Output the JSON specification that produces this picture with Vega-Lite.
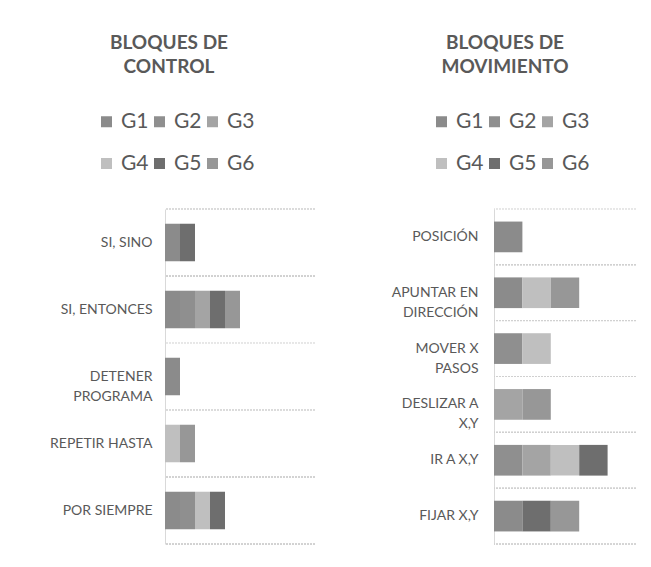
{
  "$schema": "https://vega.github.io/schema/vega-lite/v6.json",
  "padding": {"left": 5, "top": 34, "right": 5, "bottom": 5},
  "background": "white",
  "spacing": 38,
  "config": {
    "font": "Lato",
    "view": {"stroke": null},
    "axis": {"labelFont": "Lato", "labelColor": "#595959", "labelFontSize": 14},
    "legend": {"labelFont": "Lato", "labelColor": "#595959", "labelFontSize": 21},
    "title": {"font": "Lato", "color": "#595959", "fontSize": 19, "fontWeight": "bold", "lineHeight": 24, "anchor": "middle", "frame": "group"}
  },
  "datasets": {
    "control": [
      {"bloque": "SI, SINO", "grupo": "G1", "valor": 1},
      {"bloque": "SI, SINO", "grupo": "G5", "valor": 1},
      {"bloque": "SI, ENTONCES", "grupo": "G1", "valor": 1},
      {"bloque": "SI, ENTONCES", "grupo": "G2", "valor": 1},
      {"bloque": "SI, ENTONCES", "grupo": "G3", "valor": 1},
      {"bloque": "SI, ENTONCES", "grupo": "G5", "valor": 1},
      {"bloque": "SI, ENTONCES", "grupo": "G6", "valor": 1},
      {"bloque": "DETENER PROGRAMA", "grupo": "G1", "valor": 1},
      {"bloque": "REPETIR HASTA", "grupo": "G4", "valor": 1},
      {"bloque": "REPETIR HASTA", "grupo": "G6", "valor": 1},
      {"bloque": "POR SIEMPRE", "grupo": "G1", "valor": 1},
      {"bloque": "POR SIEMPRE", "grupo": "G2", "valor": 1},
      {"bloque": "POR SIEMPRE", "grupo": "G4", "valor": 1},
      {"bloque": "POR SIEMPRE", "grupo": "G5", "valor": 1}
    ],
    "movimiento": [
      {"bloque": "POSICIÓN", "grupo": "G1", "valor": 1},
      {"bloque": "APUNTAR EN DIRECCIÓN", "grupo": "G1", "valor": 1},
      {"bloque": "APUNTAR EN DIRECCIÓN", "grupo": "G4", "valor": 1},
      {"bloque": "APUNTAR EN DIRECCIÓN", "grupo": "G6", "valor": 1},
      {"bloque": "MOVER X PASOS", "grupo": "G2", "valor": 1},
      {"bloque": "MOVER X PASOS", "grupo": "G4", "valor": 1},
      {"bloque": "DESLIZAR A X,Y", "grupo": "G3", "valor": 1},
      {"bloque": "DESLIZAR A X,Y", "grupo": "G6", "valor": 1},
      {"bloque": "IR A X,Y", "grupo": "G2", "valor": 1},
      {"bloque": "IR A X,Y", "grupo": "G3", "valor": 1},
      {"bloque": "IR A X,Y", "grupo": "G4", "valor": 1},
      {"bloque": "IR A X,Y", "grupo": "G5", "valor": 1},
      {"bloque": "FIJAR X,Y", "grupo": "G1", "valor": 1},
      {"bloque": "FIJAR X,Y", "grupo": "G5", "valor": 1},
      {"bloque": "FIJAR X,Y", "grupo": "G6", "valor": 1}
    ]
  },
  "resolve": {
    "scale": {"color": "independent", "x": "independent", "y": "independent"},
    "legend": {"color": "independent"}
  },
  "hconcat": [
    {
      "width": 150,
      "height": 335,
      "title": {"text": ["BLOQUES DE", "CONTROL"], "dx": -71, "offset": 34},
      "data": {"name": "control"},
      "layer": [
        {
          "mark": {"type": "rule", "color": "#d0d0d0", "strokeDash": [2, 1], "strokeWidth": 1},
          "encoding": {
            "y": {"field": "bloque", "type": "nominal", "bandPosition": -0.3929,
                  "sort": ["SI, SINO", "SI, ENTONCES", "DETENER PROGRAMA", "REPETIR HASTA", "POR SIEMPRE"],
                  "axis": {
                    "title": null, "ticks": false, "grid": false, "domainColor": "#d9d9d9",
                    "labelPadding": 13, "minExtent": 160, "labelLineHeight": 20,
                    "labelExpr": "datum.label == 'DETENER PROGRAMA' ? ['DETENER', 'PROGRAMA'] : datum.label"
                  }}
          }
        },
        {
          "transform": [{"filter": "datum.bloque == 'POR SIEMPRE'"}],
          "mark": {"type": "rule", "color": "#d0d0d0", "strokeDash": [2, 1], "strokeWidth": 1},
          "encoding": {
            "y": {"field": "bloque", "type": "nominal", "bandPosition": 1.3929,
                  "sort": ["SI, SINO", "SI, ENTONCES", "DETENER PROGRAMA", "REPETIR HASTA", "POR SIEMPRE"],
                  "axis": {
                    "title": null, "ticks": false, "grid": false, "domainColor": "#d9d9d9",
                    "labelPadding": 13, "minExtent": 160, "labelLineHeight": 20,
                    "labelExpr": "datum.label == 'DETENER PROGRAMA' ? ['DETENER', 'PROGRAMA'] : datum.label"
                  }}
          }
        },
        {
          "mark": {"type": "bar"},
          "encoding": {
            "y": {
              "field": "bloque", "type": "nominal",
              "sort": ["SI, SINO", "SI, ENTONCES", "DETENER PROGRAMA", "REPETIR HASTA", "POR SIEMPRE"],
              "scale": {"paddingInner": 0.44, "paddingOuter": 0.22},
              "axis": {
                "title": null, "ticks": false, "grid": false, "domainColor": "#d9d9d9",
                "labelPadding": 13, "minExtent": 160, "labelLineHeight": 20,
                "labelExpr": "datum.label == 'DETENER PROGRAMA' ? ['DETENER', 'PROGRAMA'] : datum.label"
              }
            },
            "x": {"field": "valor", "type": "quantitative", "stack": "zero", "scale": {"domain": [0, 10]}, "axis": null},
            "color": {
              "field": "grupo", "type": "nominal",
              "scale": {"domain": ["G1", "G2", "G3", "G4", "G5", "G6"], "range": ["#8b8b8b", "#8f8f8f", "#a4a4a4", "#bfbfbf", "#6e6e6e", "#979797"]},
              "legend": {
                "title": null, "orient": "none", "legendX": -69, "legendY": -98,
                "columns": 3, "direction": "horizontal", "symbolType": "square", "symbolSize": 121,
                "symbolStrokeWidth": 0, "labelOffset": 4, "columnPadding": 0, "rowPadding": 20
              }
            },
            "order": {"field": "grupo", "type": "nominal"}
          }
        }
      ]
    },
    {
      "width": 142,
      "height": 335,
      "title": {"text": ["BLOQUES DE", "MOVIMIENTO"], "dx": -60, "offset": 34},
      "data": {"name": "movimiento"},
      "layer": [
        {
          "mark": {"type": "rule", "color": "#d0d0d0", "strokeDash": [2, 1], "strokeWidth": 1},
          "encoding": {
            "y": {"field": "bloque", "type": "nominal", "bandPosition": -0.4091,
                  "sort": ["POSICIÓN", "APUNTAR EN DIRECCIÓN", "MOVER X PASOS", "DESLIZAR A X,Y", "IR A X,Y", "FIJAR X,Y"],
                  "axis": {
                    "title": null, "ticks": false, "grid": false, "domainColor": "#d9d9d9",
                    "labelPadding": 16, "minExtent": 140, "labelLineHeight": 20,
                    "labelExpr": "datum.label == 'APUNTAR EN DIRECCIÓN' ? ['APUNTAR EN', 'DIRECCIÓN'] : datum.label == 'MOVER X PASOS' ? ['MOVER X', 'PASOS'] : datum.label == 'DESLIZAR A X,Y' ? ['DESLIZAR A', 'X,Y'] : datum.label"
                  }}
          }
        },
        {
          "transform": [{"filter": "datum.bloque == 'FIJAR X,Y'"}],
          "mark": {"type": "rule", "color": "#d0d0d0", "strokeDash": [2, 1], "strokeWidth": 1},
          "encoding": {
            "y": {"field": "bloque", "type": "nominal", "bandPosition": 1.4091,
                  "sort": ["POSICIÓN", "APUNTAR EN DIRECCIÓN", "MOVER X PASOS", "DESLIZAR A X,Y", "IR A X,Y", "FIJAR X,Y"],
                  "axis": {
                    "title": null, "ticks": false, "grid": false, "domainColor": "#d9d9d9",
                    "labelPadding": 16, "minExtent": 140, "labelLineHeight": 20,
                    "labelExpr": "datum.label == 'APUNTAR EN DIRECCIÓN' ? ['APUNTAR EN', 'DIRECCIÓN'] : datum.label == 'MOVER X PASOS' ? ['MOVER X', 'PASOS'] : datum.label == 'DESLIZAR A X,Y' ? ['DESLIZAR A', 'X,Y'] : datum.label"
                  }}
          }
        },
        {
          "mark": {"type": "bar"},
          "encoding": {
            "y": {
              "field": "bloque", "type": "nominal",
              "sort": ["POSICIÓN", "APUNTAR EN DIRECCIÓN", "MOVER X PASOS", "DESLIZAR A X,Y", "IR A X,Y", "FIJAR X,Y"],
              "scale": {"paddingInner": 0.45, "paddingOuter": 0.225},
              "axis": {
                "title": null, "ticks": false, "grid": false, "domainColor": "#d9d9d9",
                "labelPadding": 16, "minExtent": 140, "labelLineHeight": 20,
                "labelExpr": "datum.label == 'APUNTAR EN DIRECCIÓN' ? ['APUNTAR EN', 'DIRECCIÓN'] : datum.label == 'MOVER X PASOS' ? ['MOVER X', 'PASOS'] : datum.label == 'DESLIZAR A X,Y' ? ['DESLIZAR A', 'X,Y'] : datum.label"
              }
            },
            "x": {"field": "valor", "type": "quantitative", "stack": "zero", "scale": {"domain": [0, 5]}, "axis": null},
            "color": {
              "field": "grupo", "type": "nominal",
              "scale": {"domain": ["G1", "G2", "G3", "G4", "G5", "G6"], "range": ["#8b8b8b", "#8f8f8f", "#a4a4a4", "#bfbfbf", "#6e6e6e", "#979797"]},
              "legend": {
                "title": null, "orient": "none", "legendX": -63, "legendY": -98,
                "columns": 3, "direction": "horizontal", "symbolType": "square", "symbolSize": 121,
                "symbolStrokeWidth": 0, "labelOffset": 4, "columnPadding": 0, "rowPadding": 20
              }
            },
            "order": {"field": "grupo", "type": "nominal"}
          }
        }
      ]
    }
  ]
}
